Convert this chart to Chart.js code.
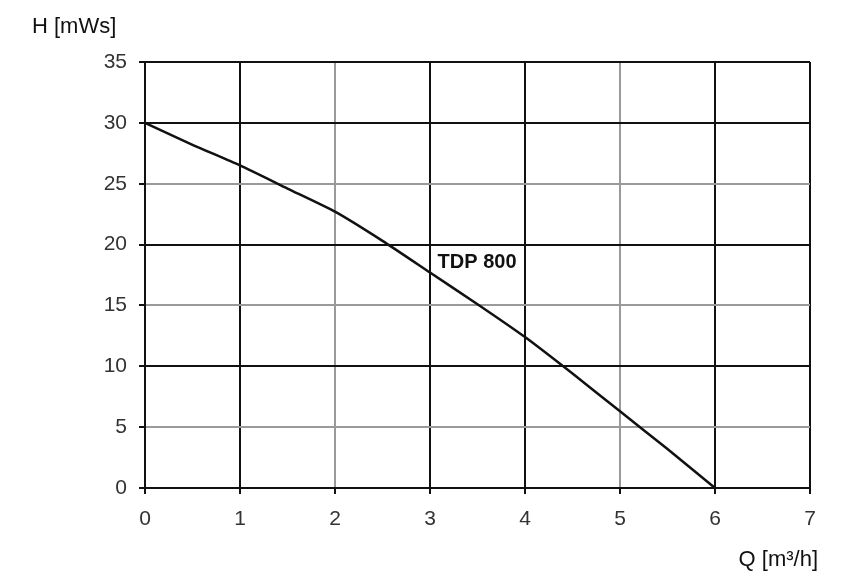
<!DOCTYPE html>
<html>
<head>
<meta charset="utf-8">
<script src="https://cdn.jsdelivr.net/npm/chart.js@4/dist/chart.umd.min.js"></script>
<style>
html,body{margin:0;padding:0;background:#fff;}
#wrap{width:855px;height:580px;position:relative;}
</style>
</head>
<body>
<div id="wrap"><canvas id="c" width="855" height="580"></canvas></div>
<script>
// Data
const flowQ = [0, 0.5, 1, 1.5, 2, 2.5, 3, 3.5, 4, 4.5, 5, 5.5, 6];
const headH = [30, 28.2, 26.5, 24.6, 22.7, 20.3, 17.7, 15.1, 12.4, 9.4, 6.3, 3.2, 0];
const xTicks = [0, 1, 2, 3, 4, 5, 6, 7];
const yTicks = [0, 5, 10, 15, 20, 25, 30, 35];
const xGrayLines = [2, 5];
const yGrayLines = [5, 15, 25];
const seriesName = 'TDP 800';
const labelAt = [3.08, 18.5];
const yTitle = 'H [mWs]';
const xTitle = 'Q [m³/h]';

const points = flowQ.map((q, i) => ({x: q, y: headH[i]}));
const FONT = "'Liberation Sans', Arial, sans-serif";

const annot = {
  id: 'annot',
  afterDraw(chart) {
    const {ctx, chartArea, scales} = chart;
    ctx.save();
    ctx.fillStyle = '#111';
    ctx.font = 'bold 20px ' + FONT;
    ctx.textAlign = 'left';
    ctx.textBaseline = 'middle';
    ctx.fillText(seriesName, scales.x.getPixelForValue(labelAt[0]), scales.y.getPixelForValue(labelAt[1]));
    ctx.font = '22px ' + FONT;
    ctx.textBaseline = 'alphabetic';
    ctx.textAlign = 'left';
    ctx.fillText(yTitle, chartArea.left - 113, chartArea.top - 29);
    ctx.textAlign = 'right';
    ctx.fillText(xTitle, chartArea.right + 8, chartArea.bottom + 78);
    ctx.restore();
  }
};

const gridColorFor = (grays) => (c) => {
  const v = c.tick ? c.tick.value : null;
  return grays.includes(v) ? '#9a9a9a' : '#111';
};

new Chart(document.getElementById('c'), {
  type: 'scatter',
  data: {
    datasets: [{
      label: seriesName,
      data: points,
      showLine: true,
      borderColor: '#111',
      borderWidth: 2.5,
      pointRadius: 0,
      tension: 0.2,
      fill: false
    }]
  },
  options: {
    responsive: false,
    animation: false,
    layout: {padding: {left: 0, right: 45, top: 62, bottom: 0}},
    plugins: {legend: {display: false}, tooltip: {enabled: false}},
    scales: {
      x: {
        type: 'linear', min: 0, max: 7,
        afterBuildTicks(s) { s.ticks = xTicks.map(v => ({value: v})); },
        afterFit(s) { s.height = 92; },
        border: {display: true, color: '#111', width: 2},
        grid: {color: gridColorFor(xGrayLines), lineWidth: 2, tickLength: 6, drawTicks: true, tickColor: '#111'},
        ticks: {color: '#333', font: {family: FONT, size: 21}, padding: 13, maxRotation: 0}
      },
      y: {
        type: 'linear', min: 0, max: 35,
        afterBuildTicks(s) { s.ticks = yTicks.map(v => ({value: v})); },
        afterFit(s) { s.width = 145; },
        border: {display: true, color: '#111', width: 2},
        grid: {color: gridColorFor(yGrayLines), lineWidth: 2, tickLength: 6, drawTicks: true, tickColor: '#111'},
        ticks: {color: '#333', font: {family: FONT, size: 21}, padding: 12}
      }
    }
  },
  plugins: [annot]
});
</script>
</body>
</html>
